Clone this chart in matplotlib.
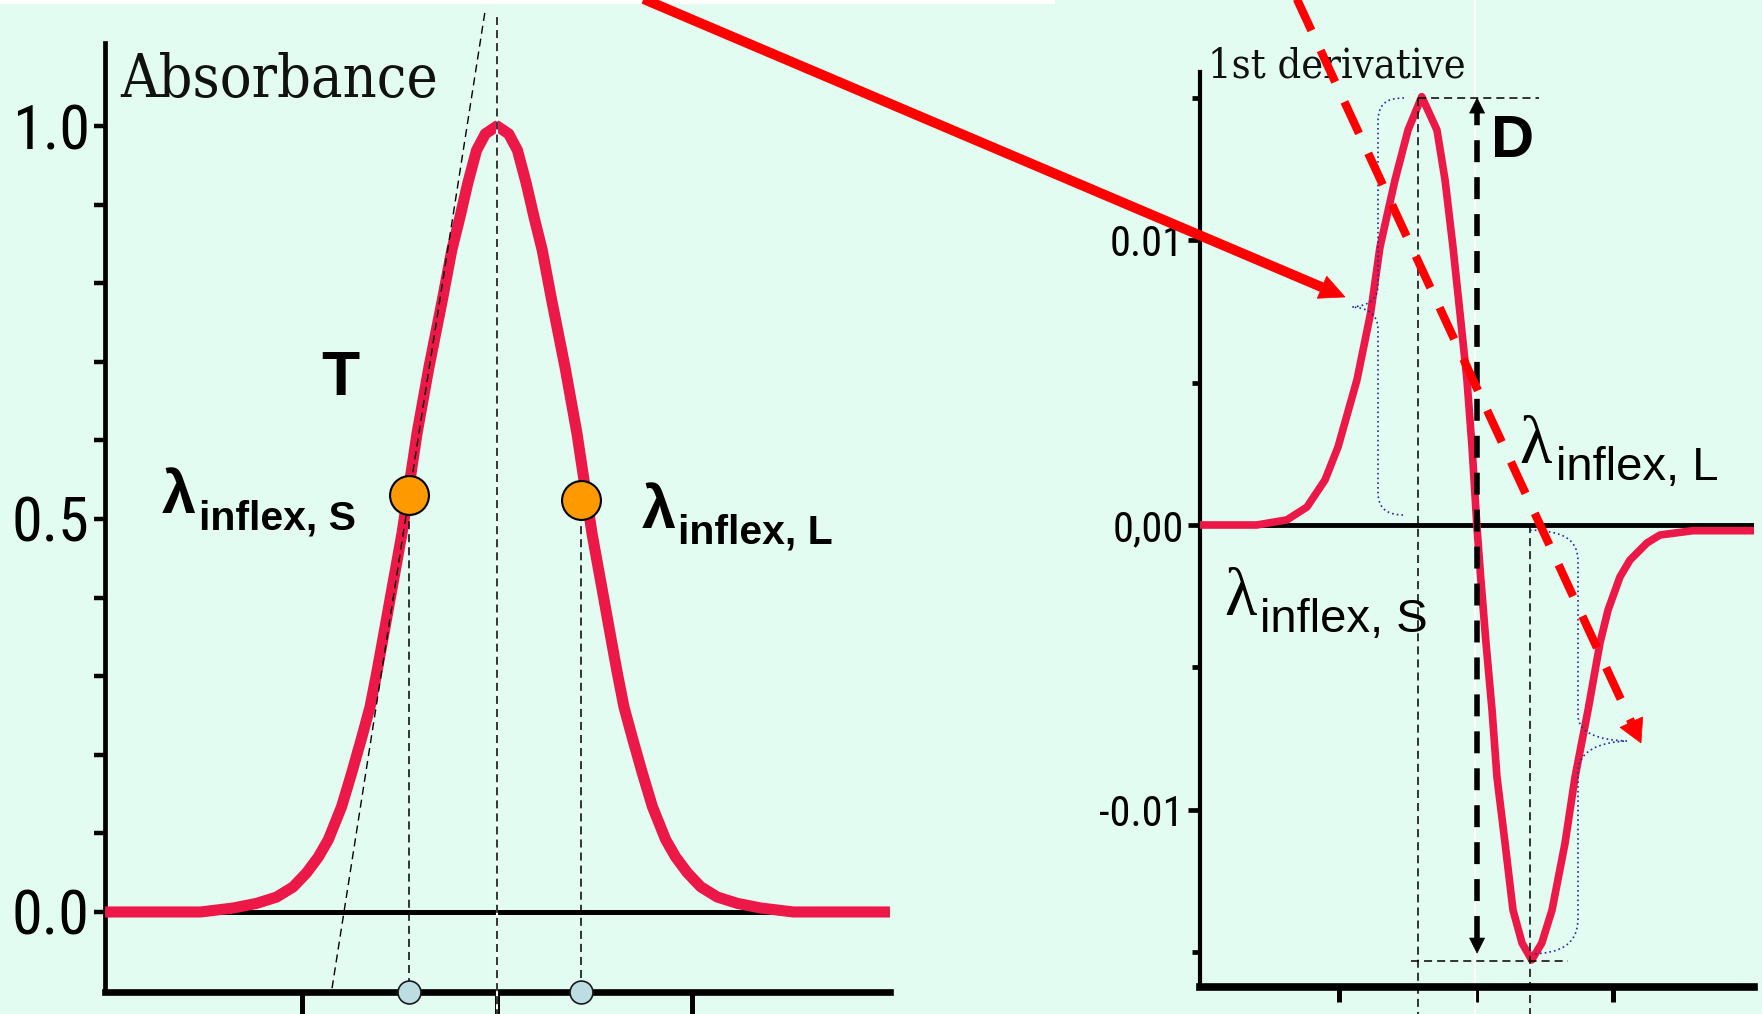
import os
import matplotlib
matplotlib.use("Agg")
import matplotlib.pyplot as plt
from matplotlib.lines import Line2D
from matplotlib.patches import Polygon, PathPatch, Rectangle
from matplotlib.path import Path
from matplotlib import font_manager as fm
import numpy as np

# ---------------- data ----------------
# Left panel: absorbance band (wavelength in x-tick units, ticks at -1, 0, 1)
abs_wavelength = [-2.01, -1.52, -1.354, -1.232, -1.13, -1.045, -0.976, -0.916, -0.865, -0.797,
                  -0.745, -0.697, -0.651, -0.617, -0.586, -0.549, -0.487, -0.41, -0.349, -0.28,
                  -0.232, -0.19, -0.15, -0.105, -0.06, 0.0,
                  0.06, 0.105, 0.15, 0.19, 0.232, 0.28, 0.349, 0.41, 0.487, 0.549,
                  0.586, 0.617, 0.651, 0.697, 0.745, 0.797, 0.865, 0.916, 0.976, 1.045,
                  1.13, 1.232, 1.354, 1.52, 2.015]
abs_values = [0.0, 0.0, 0.005, 0.011, 0.019, 0.032, 0.05, 0.07, 0.092, 0.134,
              0.177, 0.219, 0.261, 0.304, 0.346, 0.397, 0.482, 0.609, 0.693, 0.779,
              0.842, 0.884, 0.927, 0.969, 0.99, 1.0,
              0.99, 0.969, 0.927, 0.884, 0.842, 0.779, 0.693, 0.609, 0.482, 0.397,
              0.346, 0.304, 0.261, 0.219, 0.177, 0.134, 0.092, 0.07, 0.05, 0.032,
              0.019, 0.011, 0.005, 0.0, 0.0]

# inflection markers (orange) on the absorbance band
infl_wavelength = [-0.45, 0.43]
infl_abs = [0.531, 0.524]

# tangent line through the short-wavelength inflection
tangent_wavelength = [-0.846, -0.062]
tangent_abs = [-0.097, 1.145]

# Right panel: first derivative
der_wavelength = [-2.015, -1.6, -1.38, -1.234, -1.102, -1.007, -0.869, -0.769, -0.701, -0.591,
                  -0.496, -0.396, -0.285, -0.226, -0.168, -0.117, -0.066, -0.029, 0.007, 0.034,
                  0.073, 0.117, 0.153, 0.212, 0.27, 0.336, 0.407, 0.48, 0.555, 0.65,
                  0.723, 0.818, 0.905, 0.964, 1.051, 1.124, 1.248, 1.343, 1.584, 2.03]
der_values = [0.0, 0.0, 0.00018, 0.00063, 0.00158, 0.00274, 0.00509, 0.00744, 0.00975, 0.01211,
              0.01386, 0.01503, 0.01386, 0.01211, 0.00975, 0.00744, 0.00509, 0.00274, -0.00007, -0.00182,
              -0.00414, -0.00649, -0.00884, -0.01116, -0.01351, -0.01467, -0.01526, -0.01467, -0.01351, -0.01116,
              -0.00884, -0.00649, -0.00414, -0.00298, -0.00182, -0.00123, -0.00063, -0.00035, -0.0002, -0.0002]

# derivative guide positions
der_peak_x, der_peak_y = -0.42, 0.01498
der_min_x, der_min_y = 0.394, -0.0153
D_x, D_top, D_bottom = 0.008, 0.01498, -0.01502

# ticks and labels
abs_yticks = [0.0, 0.5, 1.0]
abs_yticklabels = ['0.0', '0.5', '1.0']
abs_yminor = [0.1, 0.2, 0.3, 0.4, 0.6, 0.7, 0.8, 0.9]
der_yticks = [-0.01, 0.0, 0.01]
der_yticklabels = ['-0.01', '0,00', '0.01']
der_yminor = [-0.015, -0.005, 0.005, 0.015]
xticks = [-1, 0, 1]

# ---------------- style ----------------
W, H = 1762, 1014
BG = '#E3FCF1'
CURVE = '#EC1848'
RED = '#FF0000'
NAVY = '#1F2D9E'
plt.rcParams['lines.scale_dashes'] = False
plt.rcParams['font.family'] = ['Liberation Sans', 'DejaVu Sans']


def find_condensed(kind):
    best, best_rank = None, 99
    for f in fm.fontManager.ttflist:
        fn = os.path.basename(f.fname).lower().replace(' ', '').replace('-', '').replace('_', '')
        if f.style != 'normal' or f.weight not in (400, 'normal', 'regular', 'book'):
            continue
        if 'mono' in fn or 'bold' in fn or 'italic' in fn or 'light' in fn or 'thin' in fn:
            continue
        cond = ('narrow' in fn or 'condensed' in fn or
                str(f.stretch) in ('condensed', 'semi-condensed', 'extra-condensed'))
        if not cond:
            continue
        if kind == 'sans':
            if 'serif' in fn and 'sansserif' not in fn:
                continue
            if not ('sans' in fn or 'roboto' in fn or 'arial' in fn or 'helvet' in fn):
                continue
            if 'liberationsansnarrow' in fn:
                rank = 0
            elif 'robotocondensed' in fn:
                rank = 1
            elif 'dejavusanscondensed' in fn:
                rank = 2
            elif 'semicondensed' in fn:
                rank = 3
            elif 'extra' in fn or 'ultra' in fn:
                rank = 6
            else:
                rank = 4
        else:
            if 'serif' not in fn or 'sans' in fn:
                continue
            if 'dejavuserifcondensed' in fn:
                rank = 0
            elif 'semicondensed' in fn:
                rank = 1
            elif 'extra' in fn or 'ultra' in fn:
                rank = 5
            else:
                rank = 2
        if rank < best_rank:
            best, best_rank = f.fname, rank
    return best


cond_sans = find_condensed('sans')
cond_serif = find_condensed('serif')


def fprop(path, family, **kw):
    if path:
        return fm.FontProperties(fname=path, **kw)
    return fm.FontProperties(family=family, **kw)


TICK_FP = fprop(cond_sans, ['Liberation Sans', 'DejaVu Sans'])
TITLE_FP = fprop(cond_serif, ['Liberation Serif', 'DejaVu Serif'])

fig = plt.figure(figsize=(W / 100, H / 100), dpi=100, facecolor=BG)
renderer = fig.canvas.get_renderer()


def fx(px):
    return px / W


def fy(py):
    return 1 - py / H


def size_for_width(text, fp, target_w, max_size=200):
    t = fig.text(0, 0, text, fontproperties=fp, fontsize=50)
    w = t.get_window_extent(renderer).width
    t.remove()
    return min(50 * target_w / w, max_size)


# ---------------- left panel ----------------
ax1 = fig.add_axes([fx(105), fy(992), 785 / W, 949 / H])
ax1.patch.set_visible(False)
ax1.set_xlim(-2.0103, 2.0154)
ax1.set_ylim(-0.1018, 1.1056)
for s in ['top', 'right']:
    ax1.spines[s].set_visible(False)
ax1.spines['left'].set_linewidth(3.4)
ax1.spines['bottom'].set_linewidth(4.8)
ax1.set_xticks(xticks)
ax1.set_xticklabels([])
ax1.tick_params(axis='x', direction='out', length=18, width=3.6, color='black')
ax1.set_yticks(abs_yticks)
left_tick_size = size_for_width('1.0', TICK_FP, 78, max_size=62)
ax1.set_yticklabels(abs_yticklabels, fontproperties=TICK_FP)
for lab in ax1.get_yticklabels():
    lab.set_fontsize(left_tick_size)
ax1.set_yticks(abs_yminor, minor=True)
ax1.tick_params(axis='y', which='both', direction='out', length=8, width=3.2, pad=3)

ax1.axhline(0, color='black', lw=3.6, zorder=2)
ax1.plot(abs_wavelength, abs_values, color=CURVE, lw=8, solid_joinstyle='round',
         solid_capstyle='butt', zorder=3)
# guide lines
ax1.plot([0, 0], [1.139, -0.14], color='white', lw=1.5, zorder=3.5, clip_on=False)
ax1.plot([0, 0], [1.139, -0.14], color='black', lw=1.1, dashes=(5.8, 3.6), zorder=4, clip_on=False)
ax1.plot(tangent_wavelength, tangent_abs, color='black', lw=1.0, dashes=(5.8, 3.6), zorder=4,
         clip_on=False)
ymin1 = ax1.get_ylim()[0]
for xv, yv in zip(infl_wavelength, infl_abs):
    ax1.plot([xv, xv], [yv, ymin1], color='black', lw=1.1, dashes=(5.8, 3.6), zorder=4, clip_on=False)
ax1.plot(infl_wavelength, [ymin1] * len(infl_wavelength), 'o', ms=16.5, mfc='#BCDDE1',
         mec='#1a1a1a', mew=1.2, zorder=6, clip_on=False)
ax1.plot(infl_wavelength, infl_abs, 'o', ms=28, mfc='#FF9900', mec='black', mew=1.5, zorder=6,
         clip_on=False)

# ---------------- right panel ----------------
ax2 = fig.add_axes([fx(1200), fy(987), 554 / W, 915 / H])
ax2.patch.set_visible(False)
ax2.set_xlim(-2.0146, 2.0292)
ax2.set_ylim(-0.016211, 0.015895)
for s in ['top', 'right']:
    ax2.spines[s].set_visible(False)
ax2.spines['left'].set_linewidth(3.0)
ax2.spines['bottom'].set_linewidth(5.5)
ax2.set_xticks(xticks)
ax2.set_xticklabels([])
ax2.tick_params(axis='x', direction='out', length=11, width=3.6)
ax2.set_yticks(der_yticks)
right_tick_size = size_for_width('0.01', TICK_FP, 74, max_size=44)
ax2.set_yticklabels(der_yticklabels, fontproperties=TICK_FP)
for lab in ax2.get_yticklabels():
    lab.set_fontsize(right_tick_size)
ax2.set_yticks(der_yminor, minor=True)
ax2.tick_params(axis='y', which='major', direction='out', length=8.6, width=3.4, pad=3)
ax2.tick_params(axis='y', which='minor', direction='out', length=5.8, width=3.4)

ax2.axhline(0, color='black', lw=3.5, zorder=2)
ax2.plot(der_wavelength, der_values, color=CURVE, lw=5.5, solid_joinstyle='round', zorder=3)

ybot2 = -0.01716
ax2.plot([-0.007, -0.007], [0.01842, ybot2], color='white', lw=1.6, zorder=2.5, clip_on=False)
ax2.plot([der_peak_x, der_peak_x], [der_peak_y, ybot2], color='black', lw=1.1, dashes=(5.8, 3.6),
         zorder=4, clip_on=False)
ax2.plot([der_min_x, der_min_x], [0.0, ybot2], color='black', lw=1.1, dashes=(5.8, 3.6),
         zorder=4, clip_on=False)
ax2.plot([der_peak_x, 0.46], [der_peak_y, der_peak_y], color='black', lw=1.1, dashes=(5.8, 3.6),
         zorder=4)
ax2.plot([-0.474, 0.672], [der_min_y, der_min_y], color='black', lw=1.1, dashes=(5.8, 3.6),
         zorder=4)


# ---------------- helpers in figure pixels (top-left origin) ----------------
def d2px(ax, x, y):
    X, Y = ax.transData.transform((x, y))
    return X, H - Y


def px_head(tip, tail, hl, hw, color, z):
    dx, dy = tip[0] - tail[0], tip[1] - tail[1]
    L = np.hypot(dx, dy)
    ux, uy = dx / L, dy / L
    bx, by = tip[0] - ux * hl, tip[1] - uy * hl
    pts = [tip, (bx - uy * hw, by + ux * hw), (bx + uy * hw, by - ux * hw)]
    fig.add_artist(Polygon([(fx(a), fy(b)) for a, b in pts], closed=True,
                           transform=fig.transFigure, fc=color, ec=color, lw=0.5, zorder=z))
    return bx, by


def px_arrow(tail, tip, lw, color, hl, hw, dashes=None, z=6, head2=False):
    bx, by = px_head(tip, tail, hl, hw, color, z)
    sx, sy = tail
    if head2:
        sx, sy = px_head(tail, tip, hl, hw, color, z)
    kw = dict(transform=fig.transFigure, color=color, lw=lw, zorder=z,
              solid_capstyle='butt', dash_capstyle='butt')
    if dashes is not None:
        kw['dashes'] = dashes
    fig.add_artist(Line2D([fx(sx), fx(bx)], [fy(sy), fy(by)], **kw))


# big red solid arrow from the top to the left brace
px_arrow((620, -11), (1345, 297), lw=7.2, color=RED, hl=25, hw=12)
# red dashed arrow
px_arrow((1295, -5), (1641, 743), lw=6.0, color=RED, hl=23, hw=12.5, dashes=(25, 15.8))
# black dashed double arrow "D"
top_px = d2px(ax2, D_x, D_top)
bot_px = d2px(ax2, D_x, D_bottom)
px_arrow(bot_px, top_px, lw=4.0, color='black', hl=15, hw=7.5, dashes=(15.8, 10.8), z=5,
         head2=True)

# blue dotted braces
M, C, Lt = Path.MOVETO, Path.CURVE4, Path.LINETO
brace_L = [(1404, 98), (1386, 98), (1378, 104), (1378, 122),
           (1378, 285),
           (1378, 300), (1368, 306), (1352, 307),
           (1368, 308), (1378, 314), (1378, 330),
           (1378, 492),
           (1378, 508), (1386, 515), (1404, 515)]
brace_R = [(1530, 530), (1565, 531), (1578, 540), (1578, 562),
           (1578, 715),
           (1578, 733), (1598, 740), (1627, 741),
           (1598, 742), (1578, 752), (1578, 772),
           (1578, 918),
           (1578, 945), (1560, 953), (1532, 954)]
codes = [M, C, C, C, Lt, C, C, C, C, C, C, Lt, C, C, C]
for verts in (brace_L, brace_R):
    p = Path([(fx(a), fy(b)) for a, b in verts], codes)
    fig.add_artist(PathPatch(p, transform=fig.transFigure, fill=False, ec=NAVY, lw=1.2,
                             linestyle=(0, (1.2, 2.2)), zorder=4))

# white strip at the very top
fig.add_artist(Rectangle((0, fy(4)), 1055 / W, 4 / H, transform=fig.transFigure,
                         fc='white', ec='none', zorder=0.5))

# ---------------- texts ----------------
SANS = ['Liberation Sans', 'DejaVu Sans']
SERIF = ['Liberation Serif', 'DejaVu Serif']
abs_size = size_for_width('Absorbance', TITLE_FP, 318, max_size=70)
der_size = size_for_width('1st derivative', TITLE_FP, 257, max_size=52)
fig.text(fx(120), fy(97), 'Absorbance', fontproperties=TITLE_FP, fontsize=abs_size,
         color='#111111', va='baseline', ha='left')
fig.text(fx(1208), fy(77), '1st derivative', fontproperties=TITLE_FP, fontsize=der_size,
         color='#111111', va='baseline', ha='left')
fig.text(fx(321), fy(395), 'T', family=SANS, weight='bold', fontsize=45, va='baseline')
fig.text(fx(1491), fy(157), 'D', family=SANS, weight='bold', fontsize=43, va='baseline')

# left panel inflection labels (bold)
fig.text(fx(162), fy(513), 'λ', family=SANS, weight='bold', fontsize=44, va='baseline')
fig.text(fx(199), fy(529), 'inflex, S', family=SANS, weight='bold', fontsize=29.5, va='baseline')
fig.text(fx(642), fy(528), 'λ', family=SANS, weight='bold', fontsize=44, va='baseline')
fig.text(fx(678), fy(543), 'inflex, L', family=SANS, weight='bold', fontsize=29.5, va='baseline')

# right panel inflection labels (regular)
fig.text(fx(1519), fy(463), 'λ', family=SERIF, fontsize=48, va='baseline')
fig.text(fx(1556), fy(480), 'inflex, L', family=SANS, fontsize=34, va='baseline')
fig.text(fx(1224), fy(615), 'λ', family=SERIF, fontsize=48, va='baseline')
fig.text(fx(1260), fy(632), 'inflex, S', family=SANS, fontsize=34, va='baseline')

fig.savefig('out.png', dpi=100, facecolor=BG)
